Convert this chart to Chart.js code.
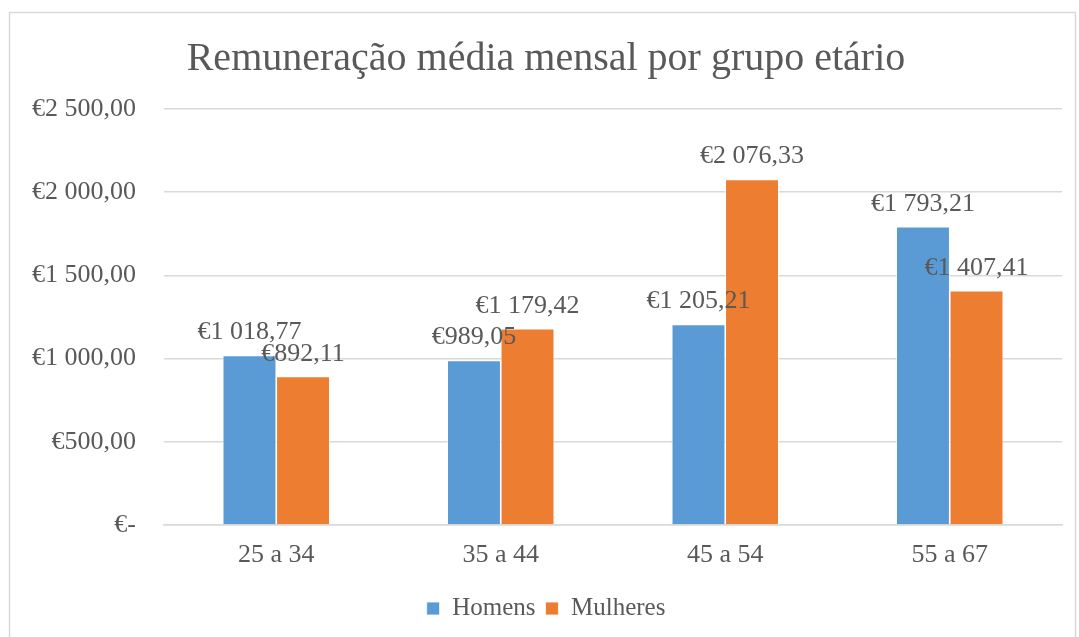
<!DOCTYPE html>
<html lang="pt">
<head>
<meta charset="utf-8">
<title>Remuneração média mensal por grupo etário</title>
<script src="https://cdn.jsdelivr.net/npm/chart.js@4.4.1/dist/chart.umd.min.js"></script>
<style>
  html, body { margin: 0; padding: 0; background: #fff; }
  #wrap { width: 1079px; height: 637px; position: relative; }
</style>
</head>
<body>
<div id="wrap"><canvas id="chart"></canvas></div>
<script>
// ----------------------------------------------------------------
//  Dados
// ----------------------------------------------------------------
const grupos   = ['25 a 34', '35 a 44', '45 a 54', '55 a 67'];
const homens   = [1018.77, 989.05, 1205.21, 1793.21];
const mulheres = [892.11, 1179.42, 2076.33, 1407.41];
const yTicks   = [0, 500, 1000, 1500, 2000, 2500];

const TXT  = '#595959';
const GRID = '#d9d9d9';
const FONT = "'Liberation Serif', 'Times New Roman', serif";

// €1 018,77 / €- para zero
const euro = (v) => {
  if (v === 0) return '€-';
  const [int, dec] = v.toFixed(2).split('.');
  return '€' + int.replace(/\B(?=(\d{3})+(?!\d))/g, ' ') + ',' + dec;
};

// moldura cinza à volta do gráfico
const moldura = {
  id: 'moldura',
  beforeDraw(chart) {
    const { ctx } = chart;
    ctx.save();
    ctx.strokeStyle = GRID;
    ctx.lineWidth = 1.5;
    ctx.strokeRect(9.5, 12.5, 1066, 640);
    ctx.restore();
  }
};

// rótulos de valor por cima das barras
const rotulos = {
  id: 'rotulos',
  afterDatasetsDraw(chart) {
    const { ctx } = chart;
    ctx.save();
    ctx.font = `26px ${FONT}`;
    ctx.fillStyle = TXT;
    ctx.textAlign = 'center';
    ctx.textBaseline = 'alphabetic';
    chart.data.datasets.forEach((ds, i) => {
      chart.getDatasetMeta(i).data.forEach((bar, j) => {
        ctx.fillText(euro(ds.data[j]), bar.x, bar.y - 16);
      });
    });
    ctx.restore();
  }
};

new Chart(document.getElementById('chart'), {
  type: 'bar',
  data: {
    labels: grupos,
    datasets: [
      { label: 'Homens',   data: homens,   backgroundColor: '#5b9bd5', borderColor: '#ffffff', borderWidth: 0.8 },
      { label: 'Mulheres', data: mulheres, backgroundColor: '#ed7d31', borderColor: '#ffffff', borderWidth: 0.8 }
    ]
  },
  options: {
    responsive: true,
    maintainAspectRatio: false,
    animation: false,
    layout: { padding: { left: 30, right: 17, top: 0, bottom: 6 } },
    datasets: { bar: { categoryPercentage: 0.477, barPercentage: 1 } },
    plugins: {
      title: {
        display: true,
        text: 'Remuneração média mensal por grupo etário',
        color: TXT,
        font: { family: FONT, size: 40, weight: 'normal', lineHeight: 1.2 },
        padding: { top: 35, bottom: 26 }
      },
      legend: {
        position: 'bottom',
        labels: {
          color: TXT,
          font: { family: FONT, size: 25 },
          boxWidth: 13,
          boxHeight: 13,
          padding: 10
        }
      },
      tooltip: { enabled: false }
    },
    scales: {
      x: {
        grid: { display: false, drawTicks: false },
        border: { color: GRID, width: 1.5 },
        ticks: { color: TXT, font: { family: FONT, size: 26 }, padding: 15 },
        afterFit: (s) => { s.height = 61; }
      },
      y: {
        min: 0,
        max: 2500,
        afterBuildTicks: (s) => { s.ticks = yTicks.map(v => ({ value: v })); },
        afterFit: (s) => { s.width = 164 - 30; },
        grid: { color: GRID, lineWidth: 1.5, drawTicks: false },
        border: { display: false },
        ticks: { color: TXT, font: { family: FONT, size: 26 }, padding: 28, callback: (v) => euro(v) }
      }
    }
  },
  plugins: [moldura, rotulos]
});
</script>
</body>
</html>
